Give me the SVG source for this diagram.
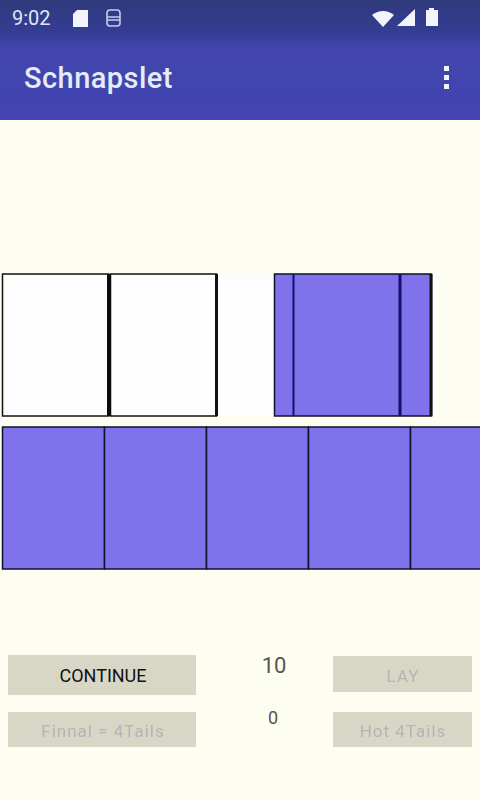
<svg xmlns="http://www.w3.org/2000/svg" width="480" height="800" viewBox="0 0 480 800">
<style>
text{font-family:Roboto,"Liberation Sans",sans-serif}
.card{fill:#7f72ea;stroke:#10102a;stroke-width:1.5}
.white{fill:#fdfdfd;stroke:#111;stroke-width:1.5}
.btn{fill:#d8d7c6}
.dim{fill:#b4b4b6;font-size:17px;text-anchor:middle;letter-spacing:1px}
.num{fill:#555;text-anchor:middle}
.line{stroke:#14106a;fill:none}
.ico{fill:#f2f6fc}
</style>
<defs>
<linearGradient id="top" x1="0" y1="0" x2="0" y2="1">
<stop offset="0" stop-color="#2f3a7c"/><stop offset=".28" stop-color="#353d94"/><stop offset=".38" stop-color="#4146ac"/><stop offset="1" stop-color="#4244b2"/>
</linearGradient>
<filter id="soft" x="-10%" y="-30%" width="120%" height="160%"><feGaussianBlur stdDeviation="0.7"/></filter>
</defs>
<rect width="480" height="800" fill="#fdfdf1"/>
<g id="app-bar">
<rect width="480" height="120" fill="url(#top)"/>
<text x="12" y="25" font-size="20" fill="#dfe6f6">9:02</text>
<path class="ico" d="M77 10h11v17H73V14z"/>
<path d="M110 10h7a3 3 0 0 1 3 3v10a3 3 0 0 1-3 3h-7a3 3 0 0 1-3-3V13a3 3 0 0 1 3-3zM107 17h13M107 20h13" fill="none" stroke="#c6cdea" stroke-width="1.6"/>
<path class="ico" d="M372 15q11-8 22 0l-11 12z"/>
<path class="ico" d="M415 9v17h-18z"/>
<path class="ico" d="M429 8h5v2h4v16h-12V10h3z"/>
<text x="24" y="88" font-size="29" font-weight="500" letter-spacing=".45" fill="#e4ecf8">Schnapslet</text>
<g class="ico"><rect x="444" y="66" width="5" height="5"/><rect x="444" y="75" width="5" height="5"/><rect x="444" y="84" width="5" height="5"/></g>
</g>
<g id="played-cards">
<rect class="white" x="2.500" y="274" width="106" height="142"/>
<rect class="white" x="110.500" y="274" width="106" height="142"/>
<rect x="107" y="274" width="4" height="142" fill="#0c0c0c"/>
<rect x="215" y="274" width="3" height="142" fill="#111"/>
</g>
<g id="atout-cards">
<rect x="218" y="274" width="56" height="142" fill="#fdfdfe"/>
<rect x="432" y="274" width="6" height="142" fill="#fdfdfe"/>
<rect class="card" x="274.500" y="274" width="157" height="142"/>
<path class="line" d="M293.500 274v142" stroke-width="2"/>
<path class="line" d="M400 274v142" stroke-width="3"/>
<rect x="429.500" y="274" width="3" height="142" fill="#111"/>
</g>
<g id="hand-cards">
<rect class="card" x="2.500" y="427" width="102" height="142"/>
<rect class="card" x="104.500" y="427" width="102" height="142"/>
<rect class="card" x="206.500" y="427" width="102" height="142"/>
<rect class="card" x="308.500" y="427" width="102" height="142"/>
<rect class="card" x="410.500" y="427" width="72" height="142"/>
</g>
<g id="btn-continue"><rect class="btn" x="8" y="655" width="188" height="40"/><text x="103" y="682" font-size="18" text-anchor="middle" fill="#111">CONTINUE</text></g>
<g id="btn-final"><rect class="btn" x="8" y="712" width="188" height="35"/><text class="dim" x="103" y="737" filter="url(#soft)">Finnal = 4Tails</text></g>
<g id="btn-lay"><rect class="btn" x="333" y="656" width="139" height="36"/><text class="dim" x="403" y="682" filter="url(#soft)">LAY</text></g>
<g id="btn-hot"><rect class="btn" x="333" y="712" width="139" height="35"/><text class="dim" x="403" y="737" filter="url(#soft)">Hot 4Tails</text></g>
<g id="score">
<text class="num" x="274" y="673" font-size="22">10</text>
<text class="num" x="273" y="724" font-size="18" fill="#333">0</text>
</g>
<g id="connectors"></g>
</svg>
